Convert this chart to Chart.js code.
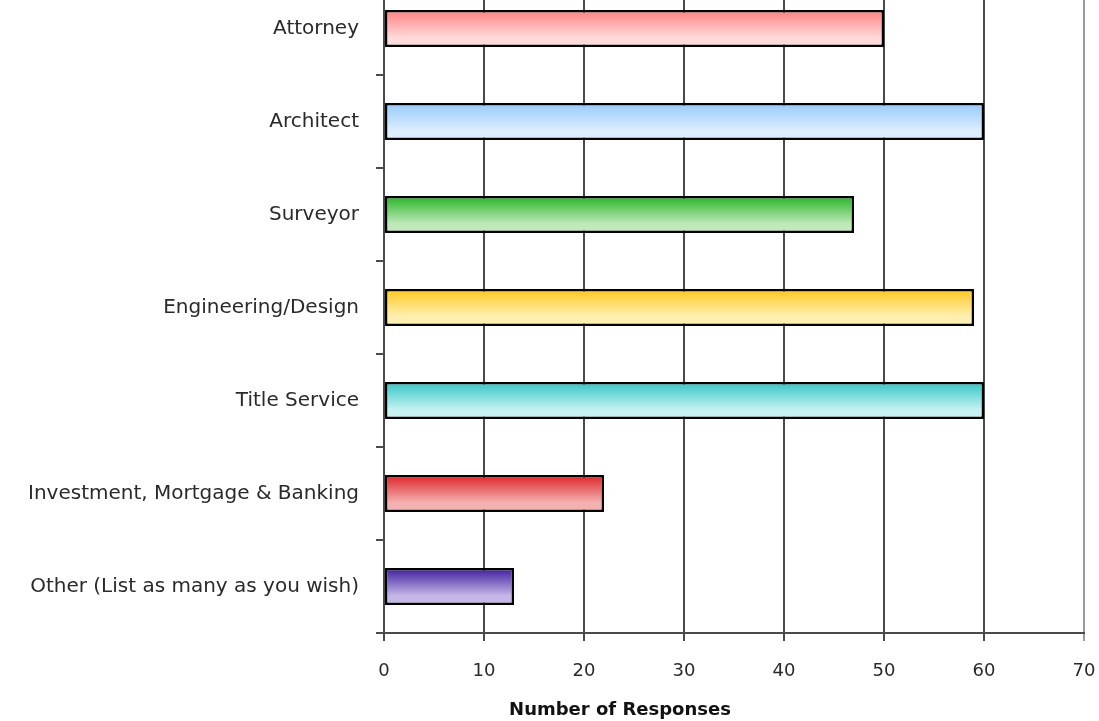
<!DOCTYPE html>
<html>
<head>
<meta charset="utf-8">
<script src="https://cdn.jsdelivr.net/npm/chart.js@4"></script>
<style>
  html, body { margin: 0; padding: 0; background: #fff; overflow: hidden; }
  #wrap { position: relative; width: 1099px; height: 721px; overflow: hidden; }
  #grafico { position: absolute; left: 0; top: -18px; }
  #tituloX {
    position: absolute; top: 698px; left: 620px; transform: translateX(-50%);
    font: bold 18px "DejaVu Sans", sans-serif; color: #111; white-space: nowrap;
  }
</style>
</head>
<body>
<div id="wrap">
  <canvas id="grafico" width="1099" height="739"></canvas>
  <div id="tituloX">Number of Responses</div>
</div>
<script>
// categorias y respuestas
const categorias = [
  'Attorney',
  'Architect',
  'Surveyor',
  'Engineering/Design',
  'Title Service',
  'Investment, Mortgage & Banking',
  'Other (List as many as you wish)'
];
const respuestas = [50, 60, 47, 59, 60, 22, 13];
const ticksX = [0, 10, 20, 30, 40, 50, 60, 70];

// degradado de cada barra: color arriba -> color abajo
const colorArriba = ['#ff7f80', '#96c8fb', '#24b324', '#ffc61e', '#33c5c6', '#dd2226', '#3c1a9c'];
const colorAbajo = ['#ffdada', '#ddeeff', '#bfe9b9', '#fff0b2', '#c6f2f2', '#f3b1b1', '#c5b6e8'];

const grosorBarra = 0.4;

function degradado(c) {
  const chart = c.chart;
  const y = chart.scales.y;
  const i = c.dataIndex;
  if (!y || y.height === undefined) return colorArriba[i];
  const centro = y.getPixelForValue(i);
  const mitad = (y.height / categorias.length) * grosorBarra / 2;
  const g = chart.ctx.createLinearGradient(0, centro - mitad, 0, centro + mitad);
  g.addColorStop(0, colorArriba[i]);
  g.addColorStop(0.75, colorAbajo[i]);
  g.addColorStop(1, colorAbajo[i]);
  return g;
}

const fuenteY = { family: '"DejaVu Sans", sans-serif', size: 20 };
const fuenteX = { family: '"DejaVu Sans", sans-serif', size: 18 };

new Chart(document.getElementById('grafico'), {
  type: 'bar',
  data: {
    labels: categorias,
    datasets: [{
      data: respuestas,
      backgroundColor: degradado,
      borderColor: '#000',
      borderWidth: 2.5,
      borderSkipped: false,
      categoryPercentage: 1,
      barPercentage: grosorBarra
    }]
  },
  options: {
    indexAxis: 'y',
    responsive: false,
    animation: false,
    devicePixelRatio: 1,
    layout: { autoPadding: false, padding: { top: 0, right: 15, left: 0, bottom: 0 } },
    plugins: { legend: { display: false }, tooltip: { enabled: false } },
    scales: {
      x: {
        min: 0,
        max: 70,
        afterBuildTicks: s => { s.ticks = ticksX.map(v => ({ value: v })); },
        // alto fijo del eje y sin relleno extra a los lados
        afterFit: s => { s.height = 88; s.paddingLeft = 0; s.paddingRight = 0; },
        grid: {
          color: c => c.tick && c.tick.value === 70 ? '#9a9a9a' : '#4a4a4a',
          lineWidth: 2,
          tickLength: 8
        },
        border: { color: '#4a4a4a', width: 2 },
        ticks: { color: '#2a2a2a', font: fuenteX, padding: 20 }
      },
      y: {
        afterFit: s => { s.width = 384; s.paddingTop = 0; s.paddingBottom = 0; },
        grid: {
          offset: true,
          drawOnChartArea: false,
          color: '#4a4a4a',
          lineWidth: 2,
          tickLength: 8
        },
        border: { color: '#4a4a4a', width: 2 },
        ticks: { color: '#2a2a2a', font: fuenteY, padding: 17 }
      }
    }
  }
});
</script>
</body>
</html>
